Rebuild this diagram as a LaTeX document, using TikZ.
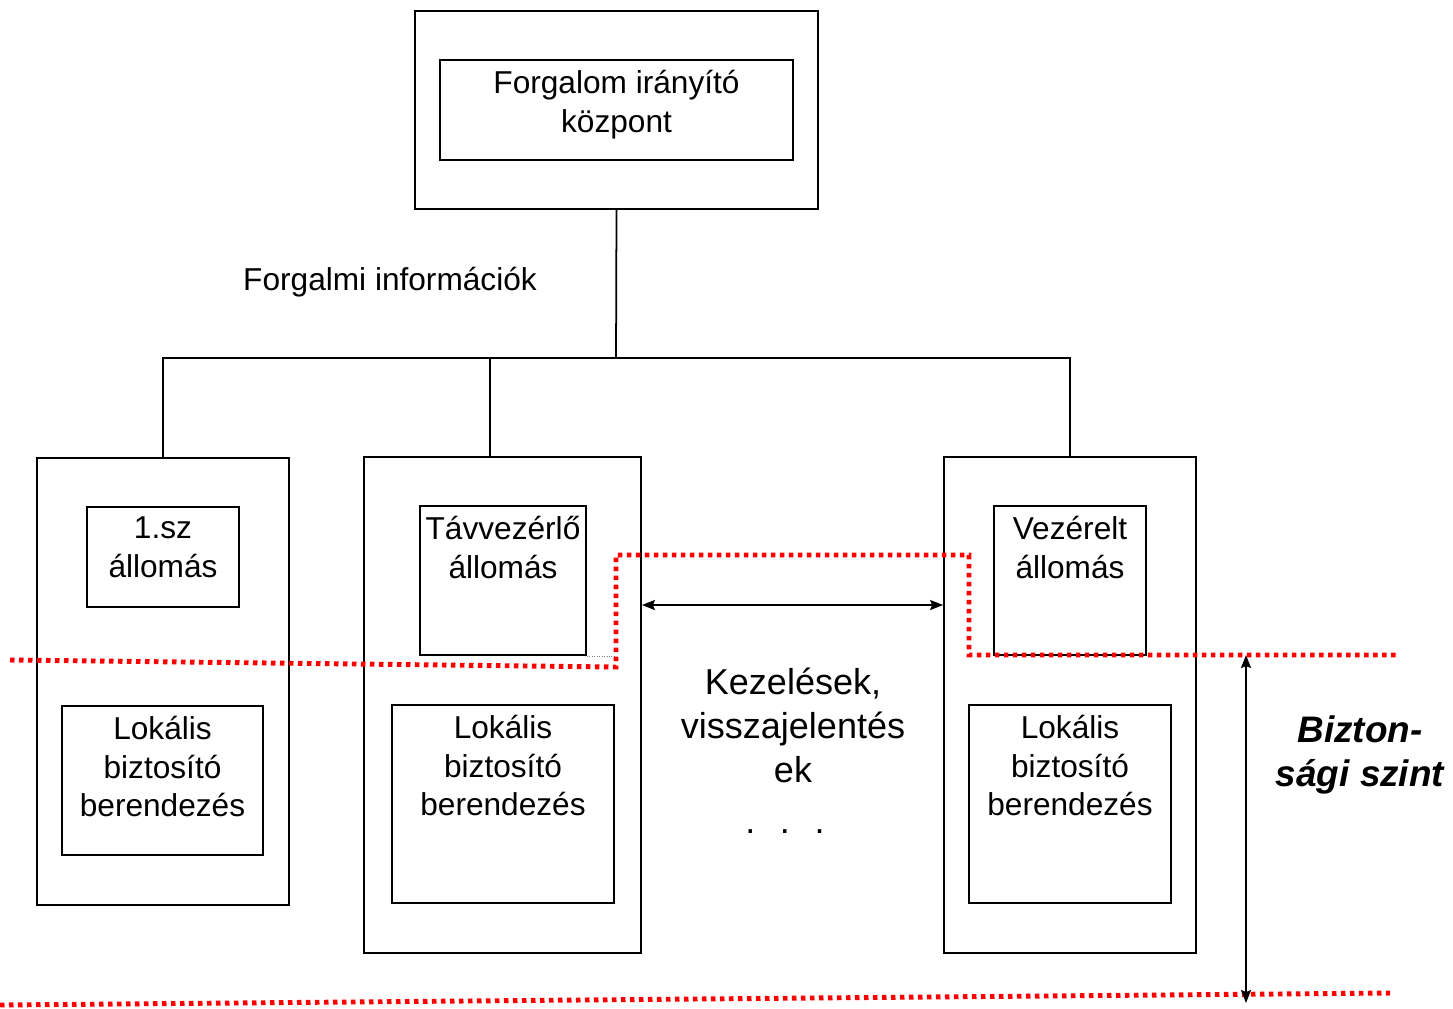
\documentclass[tikz,border=0pt]{standalone}
\usepackage{fontspec}
\setmainfont{Liberation Sans}
\usetikzlibrary{arrows.meta,positioning}

\begin{document}
\begin{tikzpicture}
      [x=0.2mm, y=-0.2mm, >={Stealth[length=2.6mm,width=2mm,inset=0.4mm]}, line width=1pt,
      keret/.style 2 args={draw, minimum width=#1, minimum height=#2, inner sep=0pt},
      felirat/.style={anchor=north, align=center, inner sep=5.8pt,
        font=\fontsize{18}{22}\selectfont, execute at begin node={\strut}},
      piros/.style={red, line width=2.8pt, dash pattern=on 0.9mm off 0.9mm}]

      \useasboundingbox (0,0) rectangle (1453,1008);

      \node [keret={80.6mm}{39.6mm}] (kozpont) at (616.5,110) {};
      \node [keret={70.6mm}{20mm}, label={[felirat]north:Forgalom irányító\\központ}] (kozpontf) at (616.5,110) {};

      \node [keret={50.4mm}{89.4mm}] (all1) at (163,681.5) {};
      \node [keret={30.4mm}{20mm}, label={[felirat]north:1.sz\\állomás}] (all1f) at (163,557) {};
      \node [keret={40.2mm}{29.8mm}, label={[felirat]north:Lokális\\biztosító\\berendezés}] (all1b) at (162.5,780.5) {};

      \node [keret={55.4mm}{99.2mm}] (tav) at (502.5,705) {};
      \node [keret={33.2mm}{29.8mm}, label={[felirat]north:Távvezérlő\\állomás}] (tavf) at (503,580.5) {};
      \node [keret={44.4mm}{39.6mm}, label={[felirat]north:Lokális\\biztosító\\berendezés}] (tavb) at (503,804) {};

      \node [keret={50.4mm}{99.2mm}] (vez) at (1070,705) {};
      \node [keret={30.4mm}{29.8mm}, label={[felirat]north:Vezérelt\\állomás}] (vezf) at (1070,580.5) {};
      \node [keret={40.4mm}{39.6mm}, label={[felirat]north:Lokális\\biztosító\\berendezés}] (vezb) at (1070,804) {};

      % sin
      \coordinate (sin) at (616,358);
      \draw (kozpont.south) -- (sin);
      \draw (all1.north) |- (sin) -| (vez.north);
      \draw ([xshift=-2.5mm]tav.north) coordinate (tavc) -- (tavc |- sin);
      \node [font=\fontsize{18}{22}\selectfont] (info) at (390,282) {Forgalmi információk};

      \draw [<->] (tav.east |- 0,605) -- (vez.west |- 0,605);
      \node [align=center, font=\fontsize{20.5}{25}\selectfont] (kezel) at (793,725) {Kezelések,\\visszajelentés\\ek};
      \node [font=\fontsize{20.5}{25}\selectfont] (pontok) at (785,832) {.\hspace{14pt}.\hspace{14pt}.};

      % biztonsagi szint
      \draw [densely dotted, line width=0.4pt, gray] (tavf.south east) -- (tavf.south east -| 616,0);
      \draw [piros] (10,660) -- (616,667) -- (616,555) -- (969,555) -- (969,655) -- (1397,655);
      \draw [piros] (0,1005) -- (1390,993);
      \coordinate (szf) at (1246,655);
      \coordinate (sza) at (1246,1003);
      \draw [<->] (szf) -- (sza);
      \node [align=center, font=\fontsize{21}{25}\selectfont\bfseries\itshape] (szint) at (1360,755) {Bizton-\\sági szint};
    \end{tikzpicture}
\end{document}
